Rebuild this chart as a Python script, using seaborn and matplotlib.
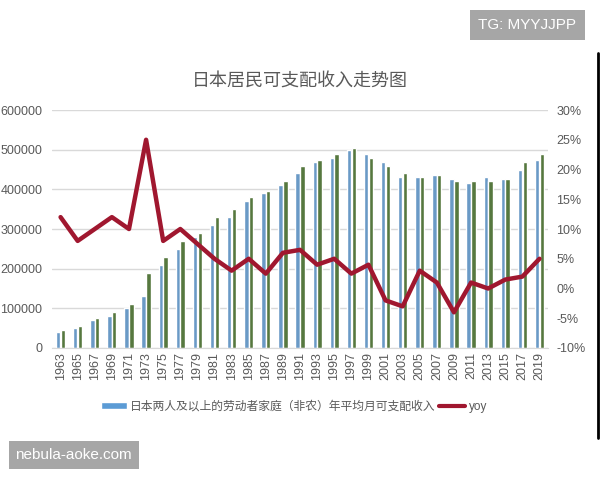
import numpy as np
import pandas as pd
import matplotlib
matplotlib.use('Agg')
import matplotlib.pyplot as plt
from matplotlib.lines import Line2D
from matplotlib.patches import Patch
from matplotlib.ticker import FuncFormatter
import seaborn as sns

# data
years = [str(y) for y in range(1963, 2020, 2)]
income_a = [40000, 50000, 70000, 80000, 100000, 130000, 210000, 250000, 280000,
            310000, 330000, 370000, 390000, 410000, 440000, 470000, 480000, 500000,
            490000, 470000, 430000, 430000, 435000, 425000, 415000, 430000, 425000,
            450000, 475000]
income_b = [45000, 55000, 75000, 90000, 110000, 190000, 230000, 270000, 290000,
            330000, 350000, 380000, 395000, 420000, 460000, 475000, 490000, 505000,
            480000, 460000, 440000, 430000, 435000, 420000, 420000, 420000, 425000,
            470000, 490000]
yoy = [12, 8, 10, 12, 10, 25, 8, 10, 7.5, 5, 3, 5, 2.5, 6, 6.5, 4, 5, 2.5, 4,
       -2, -3, 3, 1, -4, 1, 0, 1.5, 2, 5]

legend_label = '日本两人及以上的劳动者家庭（非农）年平均月可支配收入'
title = '日本居民可支配收入走势图'

sns.set_style('white')
plt.rcParams['font.family'] = ['Liberation Sans', 'Noto Sans CJK SC', 'DejaVu Sans']

blue = '#5B9BD5'
green = '#548235'
red = '#A0172F'
txt = '#595959'

df = pd.DataFrame({
    'year': years * 2,
    'value': income_a + income_b,
    'series': ['a'] * len(years) + ['b'] * len(years),
})

fig = plt.figure(figsize=(6, 4.8), dpi=100)
ax = fig.add_axes([0.0867, 0.275, 0.8267, 0.4958])

sns.barplot(data=df, x='year', y='value', hue='series', order=years,
            palette={'a': blue, 'b': green}, width=0.56, gap=0.08,
            legend=False, ax=ax)
ax.set_ylim(0, 600000)
ax.set_yticks(range(0, 600001, 100000))
ax.set_xlim(-0.5, len(years) - 0.5)
ax.grid(axis='y', color='#D9D9D9', linewidth=1)
ax.set_axisbelow(True)
ax.set_xlabel('')
ax.set_ylabel('')
for s in ['top', 'left', 'right']:
    ax.spines[s].set_visible(False)
ax.spines['bottom'].set_color('#D9D9D9')
ax.tick_params(axis='y', length=0, colors=txt, labelsize=9, pad=7)
ax.tick_params(axis='x', length=0, colors=txt, labelrotation=90, labelsize=9, pad=3)

ax2 = ax.twinx()
sns.pointplot(x=years, y=yoy, order=years, color=red, markers='',
              linewidth=3.2, ax=ax2)
ax2.set_ylim(-10, 30)
ax2.set_yticks(range(-10, 31, 5))
ax2.yaxis.set_major_formatter(FuncFormatter(lambda v, p: f'{v:.0f}%'))
ax2.tick_params(axis='y', length=0, colors=txt, labelsize=9, pad=6)
for s in ['top', 'left', 'right', 'bottom']:
    ax2.spines[s].set_visible(False)
ax2.set_xlim(-0.5, len(years) - 0.5)

fig.text(0.5, 0.83, title, ha='center', va='center', fontsize=13, color=txt)

handles = [Patch(facecolor=blue), Line2D([0], [0], color=red, linewidth=3)]
fig.legend(handles, [legend_label, 'yoy'], loc='center', bbox_to_anchor=(0.49, 0.152),
           ncol=2, frameon=False, fontsize=8.5, handlelength=2.2, handleheight=0.5,
           columnspacing=0.3, handletextpad=0.3, labelcolor=txt)

# watermarks
fig.text(0.879, 0.948, 'TG: MYYJJPP', ha='center', va='center', fontsize=11,
         color='white', bbox=dict(facecolor='#A6A6A6', edgecolor='none',
                                  boxstyle='square,pad=0.55'))
fig.text(0.123, 0.052, 'nebula-aoke.com', ha='center', va='center', fontsize=11,
         color='white', bbox=dict(facecolor='#A6A6A6', edgecolor='none',
                                  boxstyle='square,pad=0.45'))
fig.add_artist(Line2D([0.997, 0.997], [0.0875, 0.89], color='black', linewidth=2,
                      transform=fig.transFigure))

fig.savefig('out.png', dpi=100)
